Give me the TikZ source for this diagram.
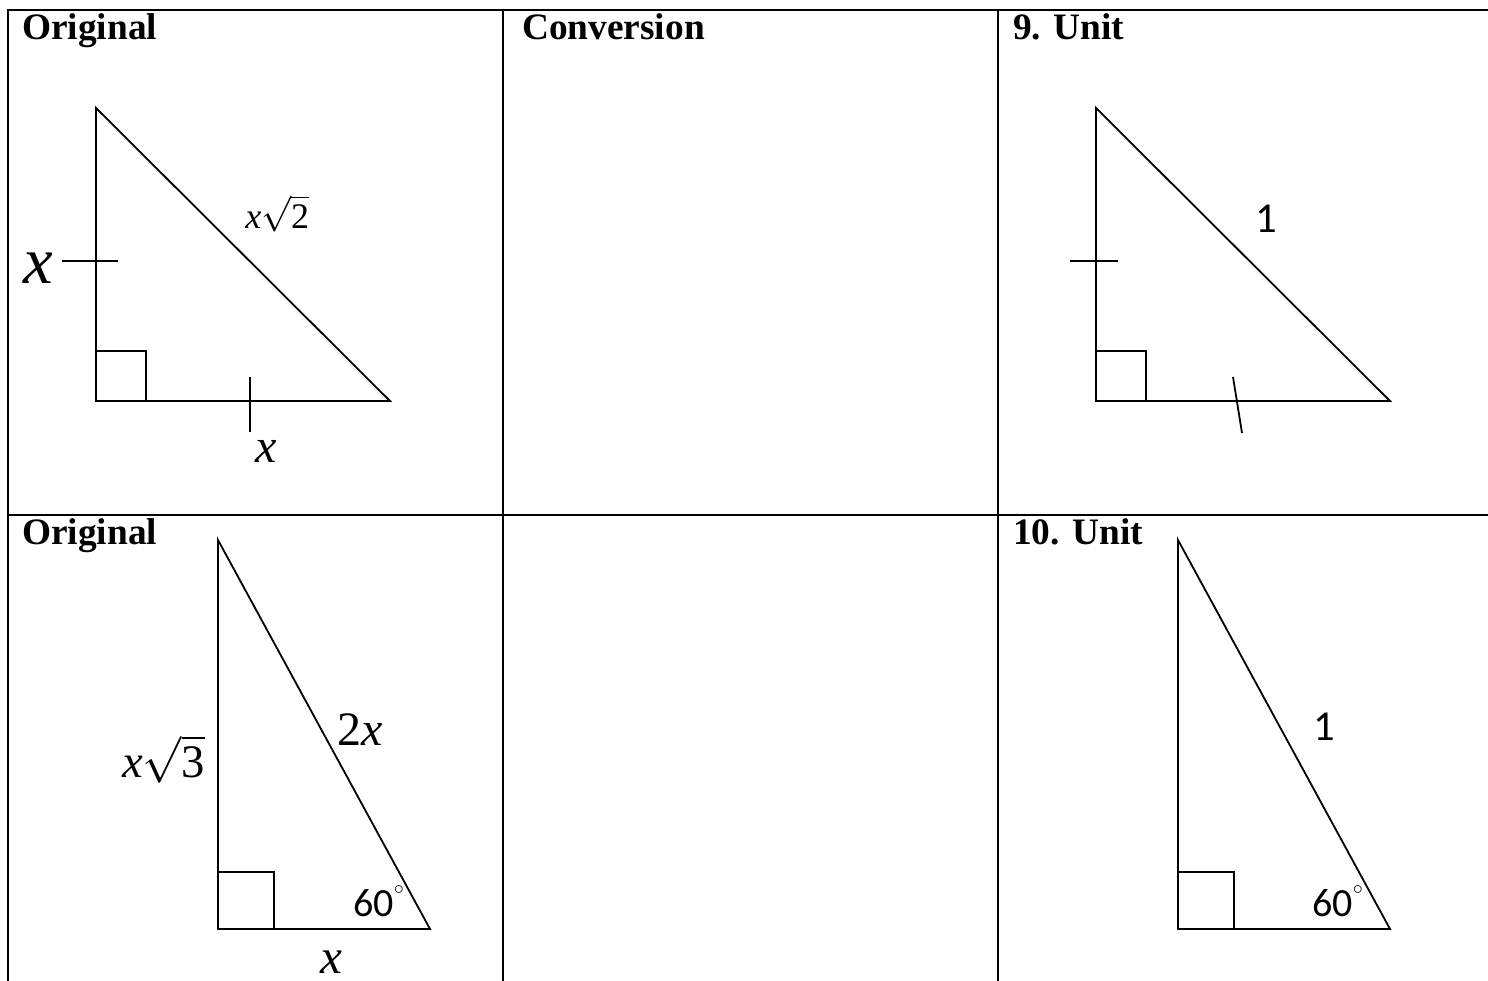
\RequirePackage{fix-cm}
\documentclass[tikz,border=0pt]{standalone}
\usepackage{exscale}
\usepackage{fontspec}
\setmainfont{Liberation Serif}
\newfontfamily\calfont{Carlito}
\begin{document}
\begin{tikzpicture}[x=0.75pt,y=-0.75pt,
  grid/.style={line width=2pt},
  tri/.style={line width=1.35pt, line join=miter},
  tick/.style={line width=1.35pt},
  head/.style={anchor=base west, inner sep=0pt, font=\fontsize{28}{28}\selectfont\bfseries},
  lab/.style={anchor=base west, inner sep=0pt},
  cal/.style={anchor=base west, inner sep=0pt, font=\fontsize{30}{30}\selectfont\calfont}]
\useasboundingbox (0,0) rectangle (1488,981);
% table
\draw[grid] (8,10) -- (1488,10);
\draw[grid] (8,515) -- (1488,515);
\draw[grid] (8,9) -- (8,981);
\draw[grid] (503,9) -- (503,981);
\draw[grid] (998,9) -- (998,981);
% headers
\node[head] (h1) at (22,40) {Original};
\node[head] (h2) at (522,40) {Conversion};
\node[head] (h3) at (1013,40) {9. Unit};
\node[head] (h4) at (22,544) {Original};
\node[head] (h5) at (1013,544) {10. Unit};
% triangle 1 (45-45-90)
\coordinate (A1) at (96,108);
\coordinate (B1) at (96,401);
\coordinate (C1) at (390,401);
\draw[tri] (A1) -- (B1) -- (C1) -- cycle;
\draw[tri] (96,351) -- (146,351) -- (146,401);
\draw[tick] (62,261) -- (118,261);
\draw[tick] (250,377) -- (250,432);
\node[lab, font=\fontsize{50}{50}\selectfont\itshape] (l1) at (23,283) {x};
\node[lab, font=\fontsize{27}{27}\selectfont] (l2) at (245,228) {$\mbox{\itshape x}\sqrt{\mbox{2}}$};
\node[lab, font=\fontsize{36}{36}\selectfont\itshape] (l3) at (255,462) {x};
% triangle 9
\coordinate (A9) at (1096,108);
\coordinate (B9) at (1096,401);
\coordinate (C9) at (1390,401);
\draw[tri] (A9) -- (B9) -- (C9) -- cycle;
\draw[tri] (1096,351) -- (1146,351) -- (1146,401);
\draw[tick] (1070,261) -- (1118,261);
\draw[tick] (1233,377) -- (1242,433);
\node[cal, font=\fontsize{32}{32}\selectfont\calfont] (l4) at (1255,232) {1};
% triangle 2 (30-60-90)
\coordinate (A2) at (218,540);
\coordinate (B2) at (218,929);
\coordinate (C2) at (430,929);
\draw[tri] (A2) -- (B2) -- (C2) -- cycle;
\draw[tri] (218,872) -- (274,872) -- (274,929);
\node[lab, font=\fontsize{35}{35}\selectfont] (l5) at (122,777) {$\mbox{\itshape x}\sqrt{\mbox{3}}$};
\node[lab, font=\fontsize{36}{36}\selectfont] (l6) at (337,745) {2\itshape x};
\node[lab, font=\fontsize{37}{37}\selectfont\itshape] (l7) at (320,973) {x};
\node[cal] (l8) at (353,916) {60\raisebox{0.55em}{$\scriptscriptstyle\circ$}};
% triangle 10
\coordinate (A10) at (1178,540);
\coordinate (B10) at (1178,929);
\coordinate (C10) at (1390,929);
\draw[tri] (A10) -- (B10) -- (C10) -- cycle;
\draw[tri] (1178,872) -- (1234,872) -- (1234,929);
\node[cal, font=\fontsize{32}{32}\selectfont\calfont] (l9) at (1313,740) {1};
\node[cal] (l10) at (1312,916) {60\raisebox{0.55em}{$\scriptscriptstyle\circ$}};
\end{tikzpicture}
\end{document}
